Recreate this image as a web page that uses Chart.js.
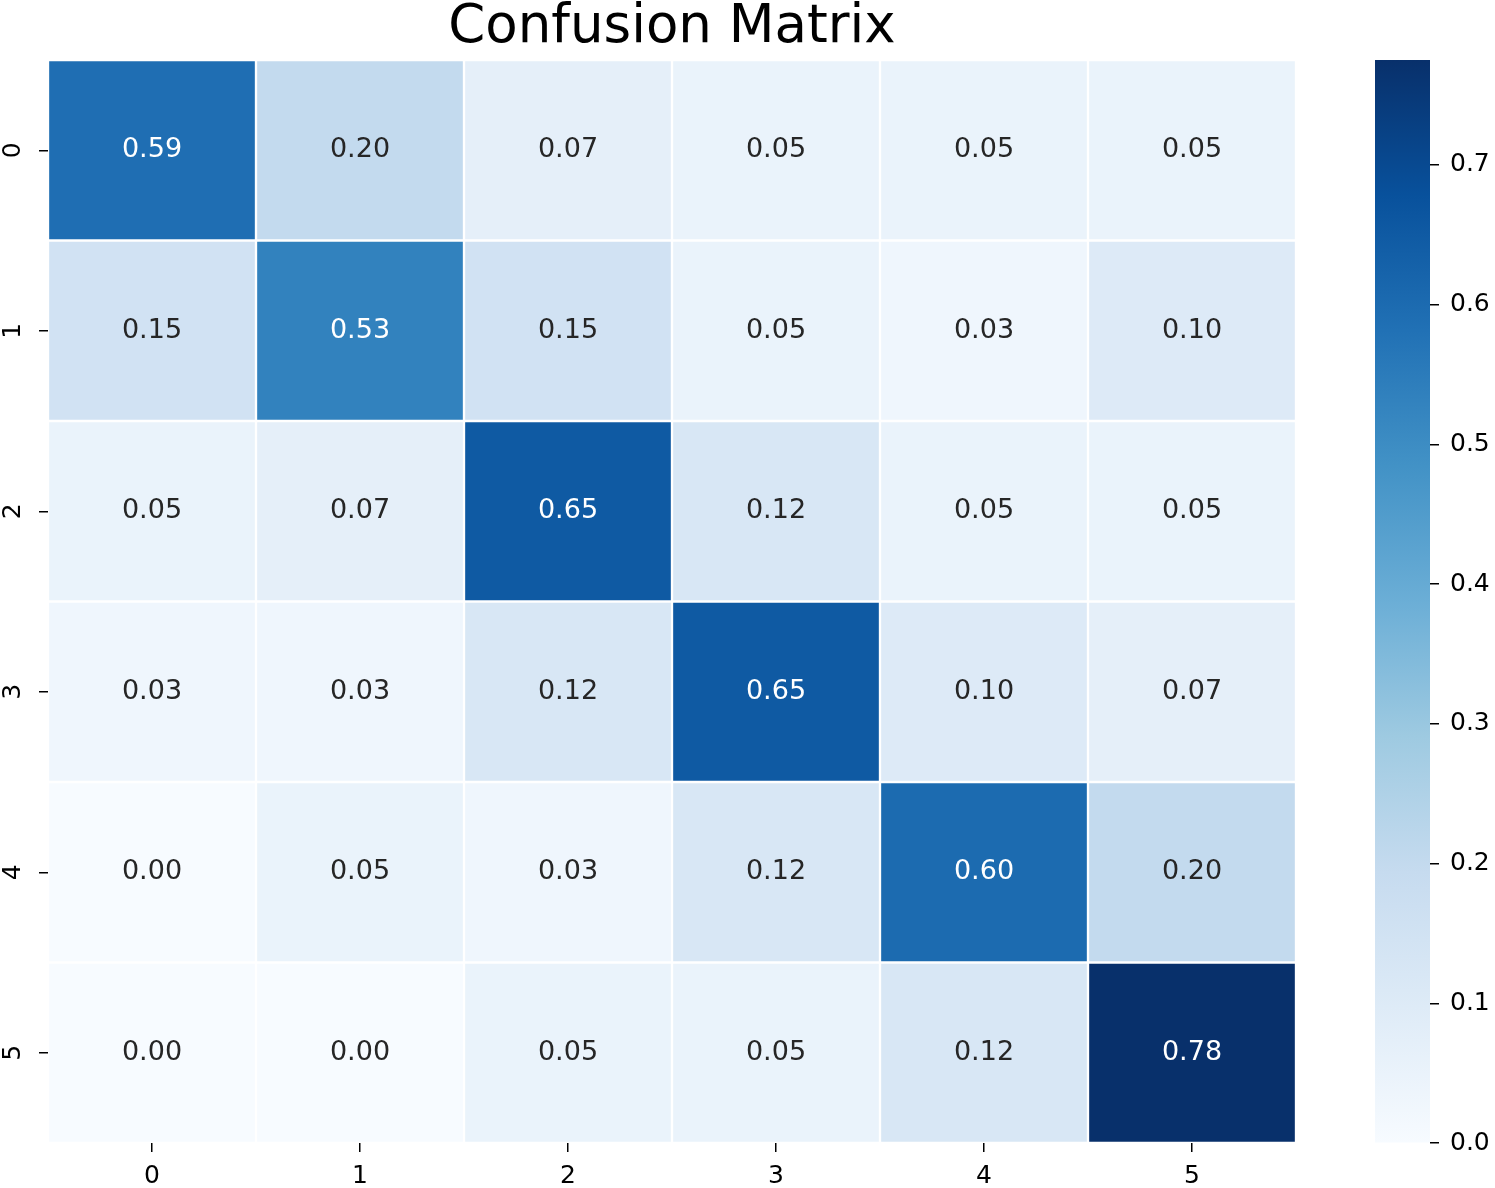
<!DOCTYPE html>
<html>
<head>
<meta charset="utf-8">
<title>Confusion Matrix</title>
<script src="https://cdn.jsdelivr.net/npm/chart.js@4.4.1/dist/chart.umd.min.js"></script>
<style>
  html, body { margin: 0; padding: 0; background: #fff; }
  #wrap { position: relative; width: 1495px; height: 1188px; }
  #matrix { position: absolute; left: 0; top: 0; }
  #cbar { position: absolute; left: 1344px; top: 0; }
</style>
</head>
<body>
<div id="wrap">
  <canvas id="matrix" width="1344" height="1188"></canvas>
  <canvas id="cbar" width="151" height="1188"></canvas>
</div>
<script>
// ---- data ----
var colLabels = ['0', '1', '2', '3', '4', '5'];
var rowLabels = ['0', '1', '2', '3', '4', '5'];
var row0 = [0.59, 0.20, 0.07, 0.05, 0.05, 0.05];
var row1 = [0.15, 0.53, 0.15, 0.05, 0.03, 0.10];
var row2 = [0.05, 0.07, 0.65, 0.12, 0.05, 0.05];
var row3 = [0.03, 0.03, 0.12, 0.65, 0.10, 0.07];
var row4 = [0.00, 0.05, 0.03, 0.12, 0.60, 0.20];
var row5 = [0.00, 0.00, 0.05, 0.05, 0.12, 0.78];
var matrix = [row0, row1, row2, row3, row4, row5];
var cbarMin = 0;
var cbarMax = 0.775;
var cbarTicks = [0.0, 0.1, 0.2, 0.3, 0.4, 0.5, 0.6, 0.7];

var FONT = 'DejaVu Sans';

// matplotlib "Blues"
var blues = [
  [247, 251, 255], [222, 235, 247], [198, 219, 239], [158, 202, 225],
  [107, 174, 214], [66, 146, 198], [33, 113, 181], [8, 81, 156], [8, 48, 107]
];

function bluesRgb(t) {
  t = Math.max(0, Math.min(1, t));
  var pos = t * (blues.length - 1);
  var i = Math.min(Math.floor(pos), blues.length - 2);
  var f = pos - i;
  var a = blues[i], b = blues[i + 1];
  return [0, 1, 2].map(function(k) { return a[k] + (b[k] - a[k]) * f; });
}

function rgbStr(rgb) {
  return 'rgb(' + rgb.map(Math.round).join(',') + ')';
}

function colorFor(v) {
  return bluesRgb((v - cbarMin) / (cbarMax - cbarMin));
}

// same rule seaborn uses to pick the annotation colour
function luminance(rgb) {
  var c = rgb.map(function(x) {
    x = x / 255;
    return x <= 0.03928 ? x / 12.92 : Math.pow((x + 0.055) / 1.055, 2.4);
  });
  return 0.2126 * c[0] + 0.7152 * c[1] + 0.0722 * c[2];
}

// one dataset per row, each cell a floating bar [r, r+1]
var datasets = matrix.map(function(row, r) {
  return {
    label: 'row ' + rowLabels[r],
    data: row.map(function() { return [r, r + 1]; }),
    backgroundColor: row.map(function(v) { return rgbStr(colorFor(v)); }),
    borderColor: '#ffffff',
    borderWidth: 1.5,
    borderSkipped: false,
    grouped: false,
    barPercentage: 1,
    categoryPercentage: 1
  };
});

var cellText = {
  id: 'cellText',
  afterDatasetsDraw: function(chart) {
    var ctx = chart.ctx;
    ctx.save();
    ctx.font = '27px "' + FONT + '"';
    ctx.textAlign = 'center';
    ctx.textBaseline = 'middle';
    matrix.forEach(function(row, r) {
      var meta = chart.getDatasetMeta(r);
      meta.data.forEach(function(bar, c) {
        var p = bar.getProps(['x', 'y', 'base'], true);
        var v = row[c];
        ctx.fillStyle = luminance(colorFor(v)) > 0.408 ? '#262626' : '#ffffff';
        ctx.fillText(v.toFixed(2), p.x, (p.y + p.base) / 2);
      });
    });
    ctx.restore();
  }
};

var tickGrid = {
  display: true,
  drawOnChartArea: false,
  drawTicks: true,
  tickLength: 9,
  color: '#000',
  lineWidth: 1.5
};

new Chart(document.getElementById('matrix').getContext('2d'), {
  type: 'bar',
  data: { labels: colLabels, datasets: datasets },
  plugins: [cellText],
  options: {
    responsive: false,
    animation: false,
    devicePixelRatio: 1,
    layout: { padding: 0 },
    plugins: {
      legend: { display: false },
      tooltip: { enabled: false },
      title: {
        display: true,
        text: 'Confusion Matrix',
        color: '#000',
        font: { family: FONT, size: 53, weight: 'normal', lineHeight: 1.0 },
        padding: { top: 2, bottom: 5 }
      }
    },
    scales: {
      x: {
        type: 'category',
        offset: true,
        grid: Object.assign({}, tickGrid, { offset: false }),
        border: { display: false },
        ticks: { color: '#000', padding: 9, font: { family: FONT, size: 25 } },
        afterFit: function(s) { s.height = 45; }
      },
      y: {
        type: 'linear',
        min: 0,
        max: 6,
        reverse: true,
        grid: tickGrid,
        border: { display: false },
        afterBuildTicks: function(s) {
          s.ticks = rowLabels.map(function(l, i) { return { value: i + 0.5 }; });
        },
        ticks: {
          color: '#000',
          padding: 26,
          minRotation: 90,
          maxRotation: 90,
          labelOffset: -8,
          font: { family: FONT, size: 25 },
          callback: function(v) { return rowLabels[Math.floor(v)]; }
        },
        afterFit: function(s) { s.width = 48; }
      },
      // empty axis keeping the right margin so the title centres over the cells
      yR: {
        type: 'linear',
        position: 'right',
        grid: { display: false },
        border: { display: false },
        ticks: { display: false },
        afterFit: function(s) { s.width = 48; }
      }
    }
  }
});

// ---- colour bar ----
new Chart(document.getElementById('cbar').getContext('2d'), {
  type: 'bar',
  data: {
    labels: [''],
    datasets: [{
      data: [[cbarMin, cbarMax]],
      backgroundColor: function(context) {
        var chart = context.chart;
        var area = chart.chartArea;
        if (!area) return null;
        var g = chart.ctx.createLinearGradient(0, area.bottom, 0, area.top);
        blues.forEach(function(c, i) {
          g.addColorStop(i / (blues.length - 1), rgbStr(c));
        });
        return g;
      },
      borderWidth: 0,
      barPercentage: 1,
      categoryPercentage: 1
    }]
  },
  options: {
    responsive: false,
    animation: false,
    devicePixelRatio: 1,
    layout: { padding: { left: 31, right: 0, top: 60, bottom: 45 } },
    plugins: { legend: { display: false }, tooltip: { enabled: false } },
    scales: {
      x: { display: false },
      y: {
        type: 'linear',
        position: 'right',
        min: cbarMin,
        max: cbarMax,
        grid: tickGrid,
        border: { display: false },
        afterBuildTicks: function(s) {
          s.ticks = cbarTicks.map(function(v) { return { value: v }; });
        },
        ticks: {
          color: '#000',
          padding: 11,
          font: { family: FONT, size: 25 },
          callback: function(v) { return v.toFixed(1); }
        },
        afterFit: function(s) { s.width = 65; }
      }
    }
  }
});
</script>
</body>
</html>
